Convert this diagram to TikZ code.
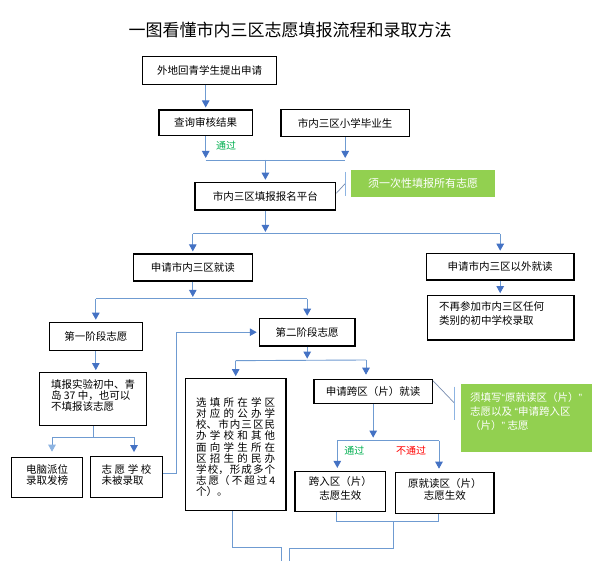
\documentclass[tikz,border=0pt]{standalone}
\usepackage{fontspec}
\setmainfont{Noto Sans CJK SC}
\newfontfamily\quotefont{Liberation Sans}
\usetikzlibrary{arrows.meta,calc}
\definecolor{lineblue}{RGB}{111,155,209}
\definecolor{tipblue}{RGB}{68,114,196}
\definecolor{paleblue}{RGB}{141,180,226}
\definecolor{notegreen}{RGB}{146,208,80}
\definecolor{passgreen}{RGB}{0,176,80}
\definecolor{calloutgray}{RGB}{120,140,175}
\newcommand{\spreadline}[1]{\makebox[79pt][s]{#1}}
\newcommand{\openq}{{\quotefont “}}
\newcommand{\closeq}{{\quotefont ”}}

\begin{document}
\begin{tikzpicture}[x=1pt,y=-1pt,
    box/.style={draw=black, line width=1.2pt, inner sep=0pt, align=center,
                font=\fontsize{10.5}{11.2}\selectfont},
    greennote/.style={fill=notegreen, text=white, inner sep=0pt,
                font=\fontsize{10.5}{14}\selectfont},
    arrow/.style={draw=lineblue, line width=0.9pt, shorten >=2pt,
                  -{Triangle[length=7pt,width=7.5pt,color=tipblue]}},
    arrowlight/.style={arrow, -{Triangle[length=7pt,width=7.5pt,color=paleblue]}},
    link/.style={draw=lineblue, line width=0.9pt},
    callout/.style={draw=calloutgray, line width=0.7pt},
    lbl/.style={font=\fontsize{10}{12}\selectfont},
  ]
  \fill[white] (0,0) rectangle (608,561);
  \useasboundingbox (0,0) rectangle (608,561);

  \node[font=\fontsize{17}{20}\selectfont] (title) at (290,30) {一图看懂市内三区志愿填报流程和录取方法};

  % application
  \node[box, minimum width=133.6pt, minimum height=27.6pt] (apply)    at (209.5,70.5)  {外地回青学生提出申请};
  \node[box, minimum width=93.3pt,  minimum height=25.7pt] (review)   at (205.7,122.9) {查询审核结果};
  \node[box, minimum width=128.3pt, minimum height=27.4pt] (local)    at (345.2,123)   {市内三区小学毕业生};
  \node[box, minimum width=140.7pt, minimum height=27.7pt] (platform) at (265.4,196.2) {市内三区填报报名平台};
  \node[greennote, minimum width=143.4pt, minimum height=27.3pt, font=\fontsize{11}{13}\selectfont]
       (onceall) at (423,183.7) {须一次性填报所有志愿};

  % where to study
  \node[box, minimum width=119pt,   minimum height=27pt]   (inner)    at (192.8,267.5) {申请市内三区就读};
  \node[box, minimum width=147.7pt, minimum height=26.7pt] (outer)    at (500.2,266.7) {申请市内三区以外就读};
  \node[box, align=left, text width=123pt, inner xsep=11.85pt, text height=15pt, text depth=29.3pt,
        font=\fontsize{10.5}{13.3}\selectfont]
       (noentry) at (500.7,317.9) {不再参加市内三区任何\\类别的初中学校录取};

  % stage one
  \node[box, minimum width=93pt,   minimum height=28pt]   (stageone) at (95.8,336.3)  {第一阶段志愿};
  \node[box, align=left, minimum width=107.4pt, text height=38pt, text depth=15pt]
       (pilot) at (93,399.2) {填报实验初中、青\\岛 37 中，也可以\\不填报该志愿};
  \node[box, minimum width=71pt, text height=26.9pt, text depth=13.5pt]
       (lottery) at (47.2,477.5) {电脑派位\\录取发榜};
  \node[box, align=left, minimum width=72.4pt, text height=27.5pt, text depth=13.5pt]
       (missed) at (126.5,477.2) {\makebox[50pt][s]{志\hfill 愿\hfill 学\hfill 校}\\未被录取};

  % stage two
  \node[box, minimum width=95.7pt, minimum height=27.7pt] (stagetwo) at (307.2,332.2) {第二阶段志愿};
  \node[box, align=left, minimum width=100.7pt, text height=117.2pt, text depth=14.8pt]
       (choose) at (235.7,444.7) {%
    \spreadline{选\hfill 填\hfill 所\hfill 在\hfill 学\hfill 区}\\
    \spreadline{对\hfill 应\hfill 的\hfill 公\hfill 办\hfill 学}\\
    \spreadline{校、\hfill 市\hfill 内\hfill 三\hfill 区\hfill 民}\\
    \spreadline{办\hfill 学\hfill 校\hfill 和\hfill 其\hfill 他}\\
    \spreadline{面\hfill 向\hfill 学\hfill 生\hfill 所\hfill 在}\\
    \spreadline{区\hfill 招\hfill 生\hfill 的\hfill 民\hfill 办}\\
    \spreadline{学\hfill 校，\hfill 形\hfill 成\hfill 多\hfill 个}\\
    \spreadline{志\hfill 愿（\hfill 不\hfill 超\hfill 过\hfill 4}\\
    个）。};
  \node[box, minimum width=118.3pt, minimum height=24pt] (cross) at (373.2,391.3) {申请跨区（片）就读};
  \node[greennote, align=left, minimum width=131pt, text height=45pt, text depth=22.7pt]
       (crossnote) at (526.2,418.2) {须填写\openq 原就读区（片）\closeq\\志愿以及 \openq 申请跨入区\\（片）\closeq\ 志愿};
  \node[box, minimum width=90.5pt, text height=27.5pt, text depth=12.7pt,
        font=\fontsize{10.5}{13.3}\selectfont]
       (crossok) at (340.3,491.6) {跨入区（片）\\志愿生效};
  \node[box, minimum width=98.3pt, text height=26.7pt, text depth=14.3pt,
        font=\fontsize{10.5}{12}\selectfont]
       (stay) at (444.9,492.8) {原就读区（片）\\志愿生效};

  % top connectors
  \draw[arrow] (review.north |- apply.south) -- (review.north);
  \coordinate (mergeA) at (265.4,160);
  \draw[arrow] (review.south) -- (review.south |- mergeA);
  \draw[arrow] (local.south) -- (local.south |- mergeA);
  \draw[link] (review.south |- mergeA) -- (local.south |- mergeA);
  \draw[arrow] (mergeA) -- (platform.north);
  \node[lbl, text=passgreen] (passA) at (226,146) {通过};

  \draw[callout] ([yshift=3pt]platform.east) -- ([xshift=-6pt]onceall.west);
  \draw[callout, draw=paleblue] ([xshift=-6pt,yshift=-2pt]onceall.north west) -- ([xshift=-6pt,yshift=2pt]onceall.south west);

  \coordinate (splitA) at ($(platform.south)+(0,23.3)$);
  \draw[arrow] (platform.south) -- (splitA);
  \draw[link] (splitA -| inner.north) -- (splitA -| outer.north);
  \draw[arrow] (splitA -| inner.north) -- (inner.north);
  \draw[arrow] (splitA -| outer.north) -- (outer.north);
  \draw[arrow] (outer.south) -- (outer.south |- noentry.north);

  % stages
  \coordinate (splitB) at ($(inner.south)+(0,17.3)$);
  \draw[arrow] (inner.south) -- (splitB);
  \draw[link] (splitB -| stageone.north) -- (splitB -| stagetwo.north);
  \draw[arrow] (splitB -| stageone.north) -- (stageone.north);
  \draw[arrow] (splitB -| stagetwo.north) -- (stagetwo.north);

  \draw[arrow] (stageone.south) -- (stageone.south |- pilot.north);
  \coordinate (splitC) at ($(pilot.south)+(0,11)$);
  \coordinate (splitCl) at ($(splitC)+(-41,0)$);
  \coordinate (splitCr) at ($(splitC)+(41,0)$);
  \draw[link] (pilot.south) -- (splitC);
  \draw[link] (splitCl) -- (splitCr);
  \draw[arrowlight, shorten >=5pt] (splitCl) -- (splitCl |- lottery.north);
  \draw[arrow, shorten >=4pt] (splitCr) -- (splitCr |- missed.north);
  \draw[arrow] ([yshift=4pt]missed.east) -- ++(13.3,0) |- (stagetwo.west);

  \coordinate (splitD) at ($(stagetwo.south)+(0,14)$);
  \coordinate (splitDr) at (366,360);
  \draw[arrow] (stagetwo.south) -- (splitD);
  \draw[link] (splitD -| choose.north) -- (splitDr);
  \draw[arrow] (splitD -| choose.north) -- (choose.north);
  \draw[arrow, shorten >=4pt] (splitDr) -- (splitDr |- cross.north);

  \draw[callout] ([yshift=-2pt]cross.north east) -- ([xshift=-6pt,yshift=15pt]crossnote.west);
  \draw[callout, draw=paleblue] ([xshift=-6pt,yshift=-2.4pt]crossnote.north west) -- ([xshift=-6pt,yshift=32pt]crossnote.south west);

  % cross-district result
  \coordinate (splitE) at ($(cross.south)+(0,36.7)$);
  \coordinate (splitEl) at ($(splitE)+(-35.9,0)$);
  \coordinate (splitEr) at ($(splitE)+(65.8,0)$);
  \draw[arrow, shorten >=3pt] (cross.south) -- (splitE);
  \draw[link] (splitEl) -- (splitEr);
  \draw[arrow, shorten >=3pt] (splitEl) -- (splitEl |- crossok.north);
  \draw[arrow, shorten >=3pt] (splitEr) -- (splitEr |- stay.north);
  \node[lbl, text=passgreen] (passB) at (354.3,450.7) {通过};
  \node[lbl, text=red] (failB) at (411,450.7) {不通过};

  % bottom joins
  \coordinate (okfoot) at ([xshift=-3.6pt]crossok.south);
  \coordinate (stayfoot) at ([xshift=-6pt]stay.south);
  \coordinate (choosefoot) at ([xshift=-3pt]choose.south);
  \coordinate (joinF) at (393.3,521.7);
  \coordinate (outL) at (281,561);
  \coordinate (outR) at (289,561);
  \draw[link] (okfoot) |- (joinF) -| (stayfoot);
  \draw[link] (joinF) -- ++(0,26.3) -| (outR);
  \draw[link] (choosefoot) |- ($(outL)+(0,-13.3)$) -- (outL);
\end{tikzpicture}
\end{document}
